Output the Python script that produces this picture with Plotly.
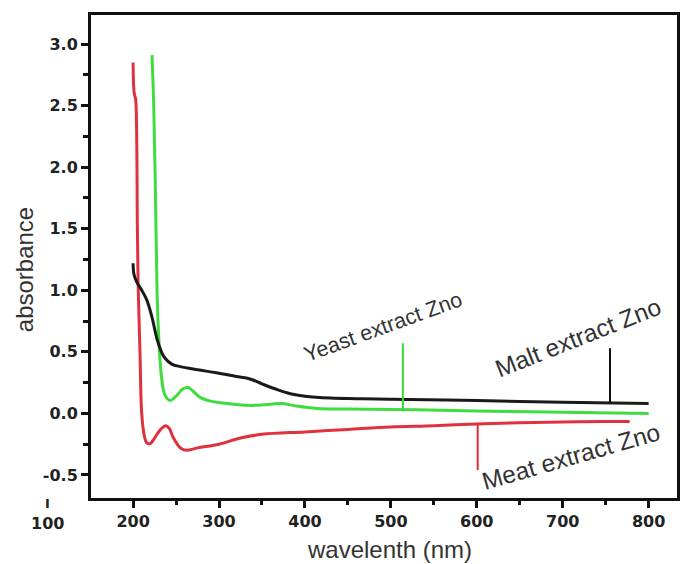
import plotly.graph_objects as go

# --- data ---
meat_x = [200, 201, 202, 203, 205, 206, 208, 210, 213, 216, 220, 225, 232, 238, 242, 247, 255, 262, 275, 300, 325, 350, 400, 450, 500, 550, 600, 650, 700, 750, 778]
meat_y = [2.85, 2.62, 2.58, 2.55, 1.5, 1.0, 0.5, 0.0, -0.18, -0.24, -0.245, -0.2, -0.13, -0.1, -0.12, -0.2, -0.28, -0.30, -0.28, -0.25, -0.2, -0.17, -0.15, -0.13, -0.11, -0.1, -0.085, -0.075, -0.07, -0.065, -0.065]

yeast_x = [222, 224, 226, 228, 230, 233, 237, 243, 250, 258, 264, 270, 278, 290, 310, 336, 360, 374, 390, 414, 450, 530, 600, 700, 800]
yeast_y = [2.91, 2.5, 1.8, 0.95, 0.6, 0.3, 0.15, 0.105, 0.14, 0.2, 0.21, 0.18, 0.13, 0.1, 0.08, 0.065, 0.075, 0.08, 0.06, 0.04, 0.035, 0.03, 0.02, 0.01, 0.0]

malt_x = [200, 201, 204, 210, 216, 222, 228, 233, 237, 245, 255, 275, 297, 320, 336, 350, 365, 383, 400, 430, 460, 500, 600, 700, 800]
malt_y = [1.22, 1.13, 1.07, 1.0, 0.92, 0.78, 0.6, 0.5, 0.45, 0.4, 0.38, 0.355, 0.33, 0.3, 0.28, 0.24, 0.2, 0.16, 0.14, 0.125, 0.12, 0.115, 0.105, 0.09, 0.08]

x_ticks = [200, 300, 400, 500, 600, 700, 800]
y_ticks = [-0.5, 0.0, 0.5, 1.0, 1.5, 2.0, 2.5, 3.0]
y_tick_text = ["-0.5", "0.0", "0.5", "1.0", "1.5", "2.0", "2.5", "3.0"]

# label texts with their pointer (x, y_top, y_bottom) and text centre
labels = ["Yeast extract Zno", "Malt extract Zno", "Meat extract Zno"]
label_colors = ["#33dd33", "#111111", "#dd2a35"]
label_angles = [-20, -21.5, -16]
label_sizes = [21.5, 24.5, 24.5]
pointer_x = [514, 755, 601]
pointer_top = [0.57, 0.53, -0.08]
pointer_bot = [0.02, 0.08, -0.46]
label_x = [491, 718, 710]
label_y = [0.70, 0.62, -0.35]

X_RANGE = [151, 833]
Y_RANGE = [-0.687, 3.236]

fig = go.Figure()
fig.add_trace(go.Scatter(x=meat_x, y=meat_y, mode="lines", line=dict(color="#e0323c", width=3), line_shape="spline"))
fig.add_trace(go.Scatter(x=yeast_x, y=yeast_y, mode="lines", line=dict(color="#3fdc3f", width=3), line_shape="spline"))
fig.add_trace(go.Scatter(x=malt_x, y=malt_y, mode="lines", line=dict(color="#1a1a1a", width=3), line_shape="spline"))

for t, c, a, s, px, pt, pb, lx, ly in zip(labels, label_colors, label_angles, label_sizes, pointer_x,
                                            pointer_top, pointer_bot, label_x, label_y):
    fig.add_shape(type="line", x0=px, x1=px, y0=pb, y1=pt, xref="x", yref="y", line=dict(color=c, width=2))
    fig.add_annotation(x=lx, y=ly, xref="x", yref="y", text=t, showarrow=False, textangle=a,
                       font=dict(family="Liberation Sans, Arial", size=s, color="#333333"))

tickfont = dict(family="DejaVu Sans", size=16, color="#222222", weight="bold")
titlefont = dict(family="Liberation Sans, Arial", size=24, color="#333333")

# stray "100" tick label (with its tick mark) left of the axis, as in the original
px100 = (100 - X_RANGE[0]) / (X_RANGE[1] - X_RANGE[0])
fig.add_annotation(x=px100, y=0, xref="paper", yref="paper", xanchor="center", yanchor="middle",
                   yshift=-25, text="100", showarrow=False, font=tickfont)
fig.add_annotation(x=px100, y=0, xref="paper", yref="paper", xanchor="center", yanchor="middle",
                   yshift=-5, text="I", showarrow=False,
                   font=dict(family="DejaVu Sans", size=13, color="#222222", weight="bold"))

# axis titles placed as in the original
fig.add_annotation(x=-0.114, y=0.472, xref="paper", yref="paper", text="absorbance", textangle=-90,
                   showarrow=False, font=titlefont, xanchor="center", yanchor="middle")
fig.add_annotation(x=0.51, y=-0.106, xref="paper", yref="paper", text="wavelenth (nm)",
                   showarrow=False, font=titlefont, xanchor="center", yanchor="middle")

fig.update_layout(
    width=685, height=564,
    margin=dict(l=91, r=8, t=15, b=66, autoexpand=False),
    paper_bgcolor="white", plot_bgcolor="white",
    showlegend=False,
    xaxis=dict(range=X_RANGE, tickvals=x_ticks, showgrid=False, zeroline=False, automargin=False,
               showline=True, linecolor="#111111", linewidth=3, mirror=True,
               ticks="outside", ticklen=7, tickwidth=3, tickcolor="#111111",
               minor=dict(dtick=50, tick0=150, ticks="outside", ticklen=4, tickwidth=3, tickcolor="#111111"),
               tickfont=tickfont),
    yaxis=dict(range=Y_RANGE, tickvals=y_ticks, ticktext=y_tick_text, showgrid=False, zeroline=False, automargin=False,
               showline=True, linecolor="#111111", linewidth=3, mirror=True,
               ticks="outside", ticklen=7, tickwidth=3, tickcolor="#111111",
               minor=dict(dtick=0.25, tick0=0, ticks="outside", ticklen=5, tickwidth=3, tickcolor="#111111"),
               tickfont=tickfont),
)

fig.write_html("out.html", config={"displayModeBar": False},
               post_script="document.body.style.margin='0';document.body.style.overflow='hidden';")
